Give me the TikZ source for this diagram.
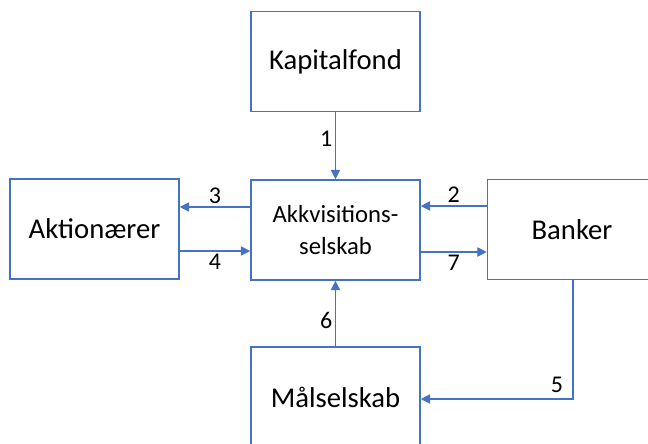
\documentclass[tikz,border=0pt]{standalone}
\usepackage{fontspec}
\setmainfont{Carlito}
\usetikzlibrary{arrows.meta}
\definecolor{boxblue}{HTML}{4472C4}

\begin{document}
\begin{tikzpicture}[
    x=0.75pt,y=-0.75pt,
    party/.style={draw=boxblue,line width=1.2pt,fill=white,
      minimum width=126.75pt,minimum height=75pt,inner sep=0pt,
      font=\fontsize{21.5}{26}\selectfont},
    flow/.style={draw=boxblue,line width=0.8pt,-{Triangle[length=7pt,width=7pt]}},
    num/.style={inner sep=2pt,font=\fontsize{18}{20}\selectfont}]
\useasboundingbox (0,0) rectangle (648,443);
\clip (0,0) rectangle (648,443);
\node[party] (kap) at (335.5,61.5) {Kapitalfond};
\node[party,align=center,font=\fontsize{18.5}{24}\selectfont] (akk) at (335.5,230) {Akkvisitions-\\selskab};
\node[party] (akt) at (94.5,229) {Aktionærer};
\node[party] (ban) at (572,229.5) {Banker};
\node[party] (maal) at (335.5,397) {Målselskab};
% pengestroemme
\draw[flow] (kap) -- node[num,left,pos=.4] {1} (akk);
\draw[flow] (ban.west |- 0,206) -- node[num,above] {2} (akk.east |- 0,206);
\draw[flow] (akk.west |- 0,207) -- node[num,above] {3} (akt.east |- 0,207);
\draw[flow] (akt.east |- 0,251) -- node[num,below] {4} (akk.west |- 0,251);
\draw[flow] (ban.south -| 573,0) |- node[num,above left,xshift=-5pt,yshift=2pt] {5} (maal.east |- 0,399);
\draw[flow] (maal) -- node[num,left,pos=.4] {6} (akk);
\draw[flow] (akk.east |- 0,252) -- node[num,below] {7} (ban.west |- 0,252);
\end{tikzpicture}
\end{document}
